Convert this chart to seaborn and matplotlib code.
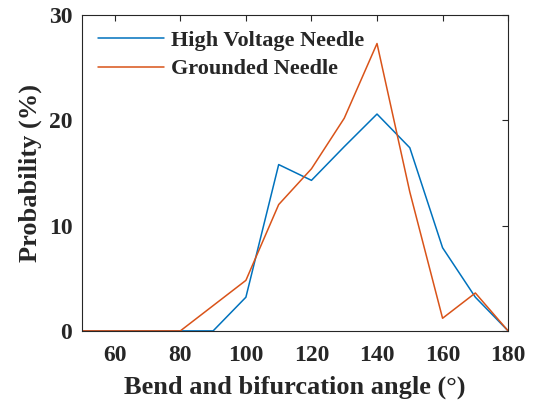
import numpy as np
import matplotlib.pyplot as plt
import seaborn as sns
import pandas as pd

angle = [50, 60, 70, 80, 90, 100, 110, 120, 130, 140, 150, 160, 170, 180]
high_voltage = [0, 0, 0, 0, 0, 3.2, 15.8, 14.3, 17.5, 20.6, 17.4, 7.9, 3.2, 0]
grounded = [0, 0, 0, 0, 2.4, 4.8, 12.0, 15.4, 20.2, 27.3, 13.2, 1.2, 3.6, 0]
series = ["High Voltage Needle", "Grounded Needle"]

df = pd.concat([
    pd.DataFrame({"angle": angle, "prob": high_voltage, "needle": series[0]}),
    pd.DataFrame({"angle": angle, "prob": grounded, "needle": series[1]}),
])

sns.set_theme(style="white")
plt.rcParams["font.family"] = ["Liberation Serif", "DejaVu Serif"]
plt.rcParams["font.weight"] = "bold"
plt.rcParams["axes.labelweight"] = "bold"

fig = plt.figure(figsize=(5.36, 4.08), dpi=100)
ax = fig.add_axes([0.153, 0.189, 0.795, 0.774])

sns.lineplot(data=df, x="angle", y="prob", hue="needle",
             palette=["#0072BD", "#D95319"], linewidth=1.1, ax=ax)

ax.set_xlim(50, 180)
ax.set_ylim(0, 30)
ax.set_xticks([60, 80, 100, 120, 140, 160, 180])
ax.set_yticks([0, 10, 20, 30])
ax.set_xlabel("Bend and bifurcation angle (°)", fontsize=19, color="#262626", labelpad=7)
ax.set_ylabel("Probability (%)", fontsize=19, color="#262626", labelpad=5)
ax.tick_params(direction="in", top=True, right=True, length=4, width=0.8,
               labelsize=17, colors="#262626")
ax.tick_params(axis="x", pad=10)
ax.tick_params(axis="y", pad=7)
for lab in ax.get_xticklabels() + ax.get_yticklabels():
    lab.set_fontweight("bold")
for s in ax.spines.values():
    s.set_color("#262626")
    s.set_linewidth(0.8)

leg = ax.legend(loc="upper left", frameon=False, fontsize=16, handlelength=3.0,
                handletextpad=0.3, borderaxespad=0.3, labelspacing=0.34)
for t in leg.get_texts():
    t.set_fontweight("bold")

fig.savefig("out.png", dpi=100)
